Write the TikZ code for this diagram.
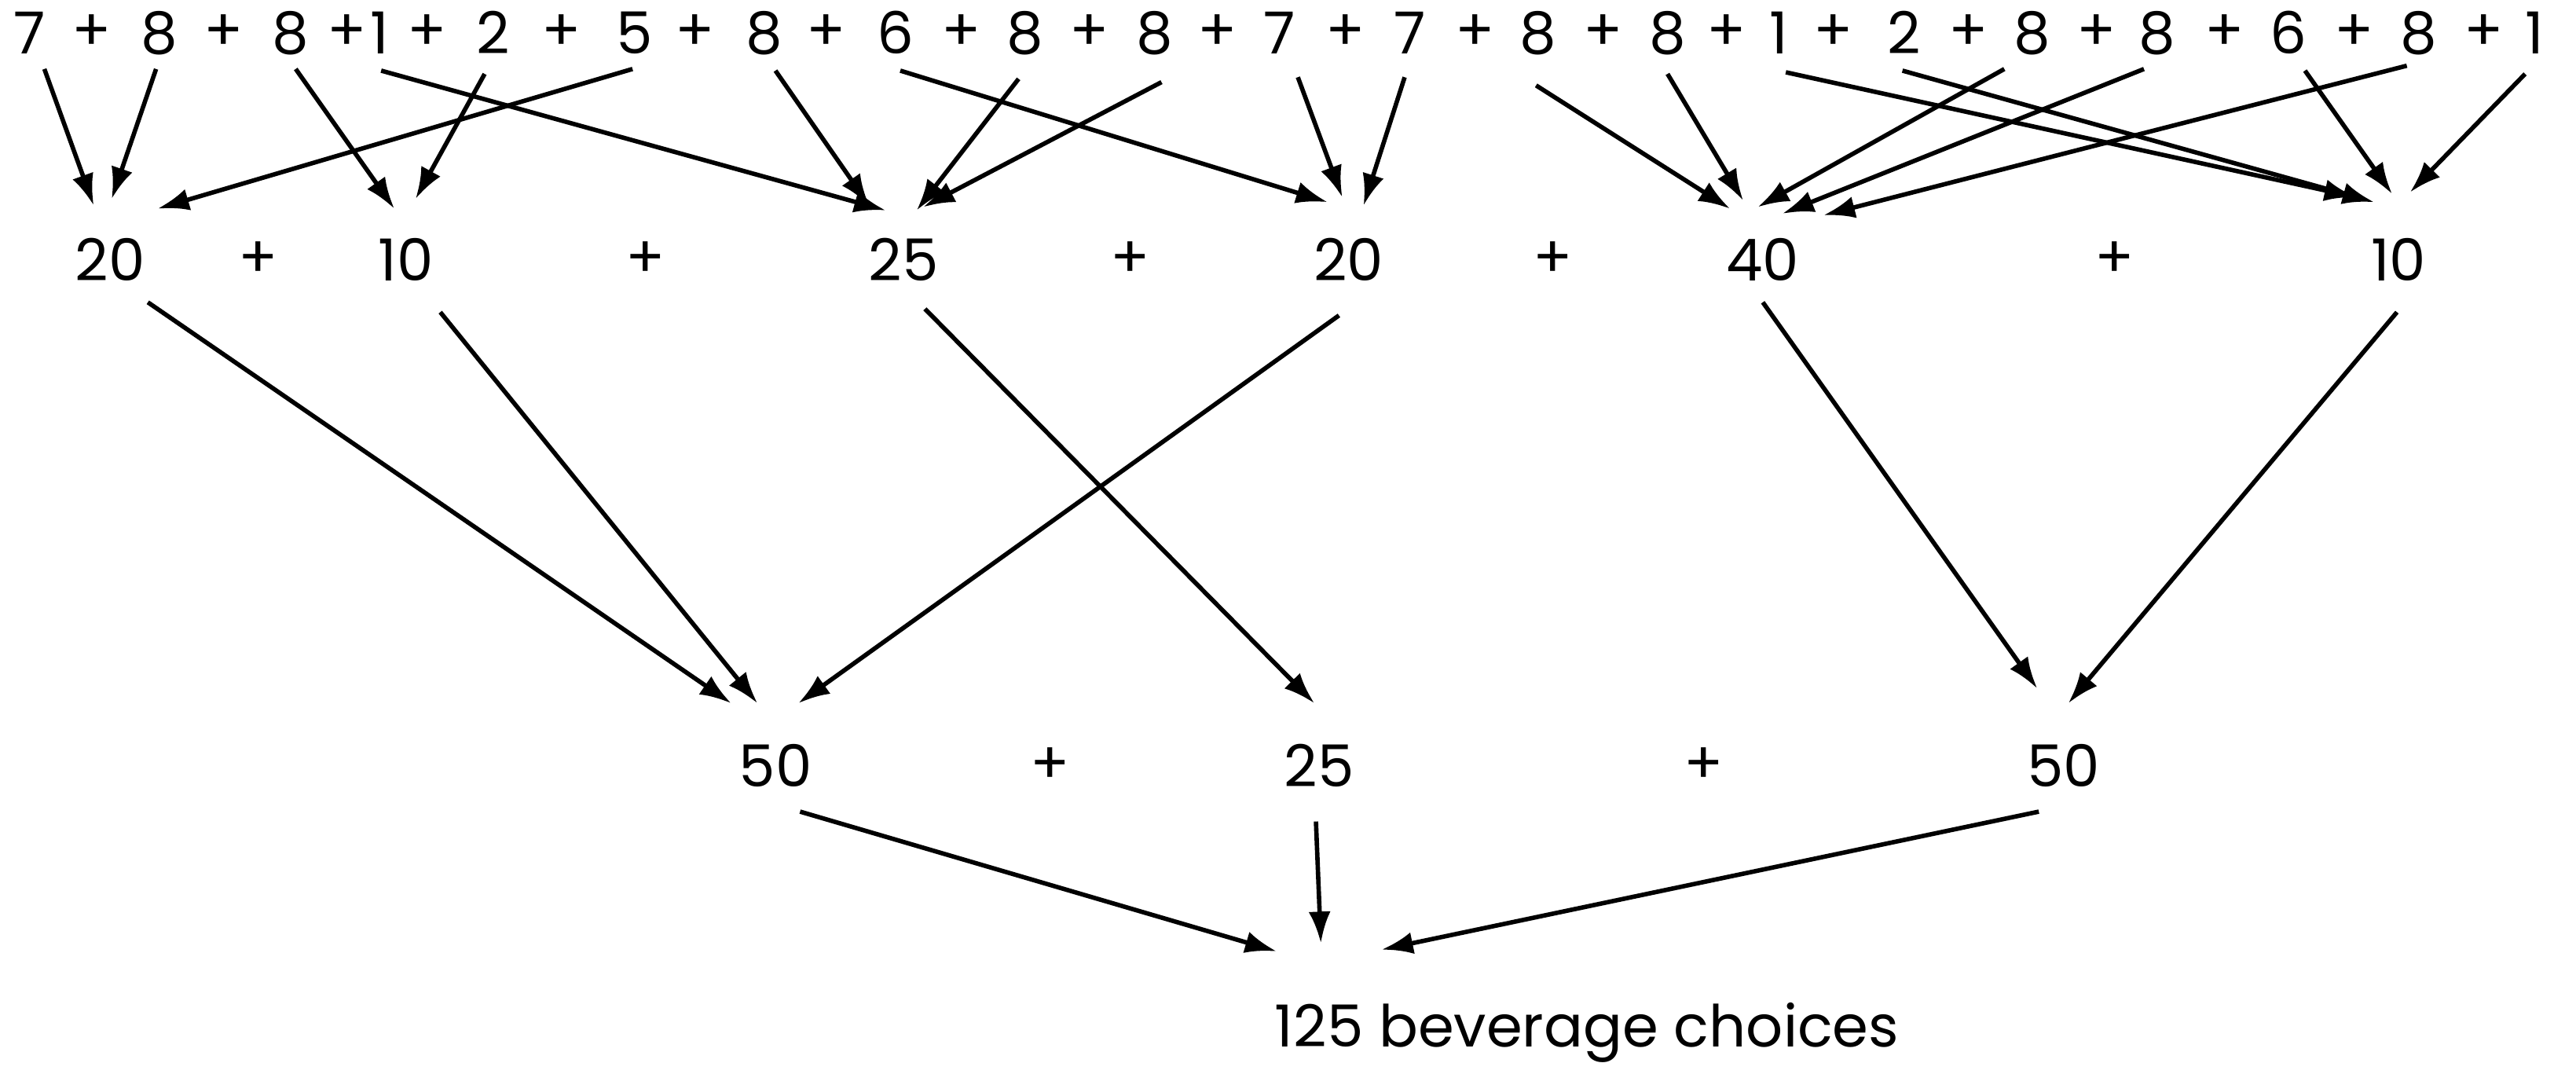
\documentclass[tikz,border=0pt]{standalone}
\usepackage{fontspec}
\setmainfont{Poppins}
\usetikzlibrary{arrows.meta,calc}
\tikzset{
    num/.style={inner sep=0pt, font=\fontsize{21}{25}\selectfont},
    arr/.style={line width=1.6pt, -{Latex[length=4mm,width=2.8mm]}},
}
\begin{document}
\begin{tikzpicture}[x=0.2091mm, y=-0.2091mm]
        \useasboundingbox (0,0) rectangle (1568,660);
        % the single drinks
        \foreach \v/\x [count=\i] in {7/18, 8/97, 8/177, 1/231, 2/300, 5/386, 8/465,
                6/545, 8/624, 8/703, 7/779, 7/858, 8/936, 8/1015, 1/1083, 2/1159,
                8/1237, 8/1313, 6/1393, 8/1472, 1/1543}
            \node[num] (t\i) at (\x,20) {\v};
        \foreach \x [count=\i] in {56, 136, 211, 260, 342, 423, 503, 585, 663, 741,
                819, 898, 976, 1051, 1116, 1198, 1276, 1354, 1433, 1512}
            \node[num] (tp\i) at (\x,20) {+};
        % first sums
        \node[num] (m1) at (67,158) {20};
        \node[num] (mp1) at (157,158) {+};
        \node[num] (m2) at (247,158) {10};
        \node[num] (mp2) at (393,158) {+};
        \node[num] (m3) at (550,158) {25};
        \node[num] (mp3) at (688,158) {+};
        \node[num] (m4) at (821,158) {20};
        \node[num] (mp4) at (945,158) {+};
        \node[num] (m5) at (1073,158) {40};
        \node[num] (mp5) at (1287,158) {+};
        \node[num] (m6) at (1460,158) {10};
        % second sums
        \node[num] (b1) at (472,466) {50};
        \node[num] (bp1) at (639,466) {+};
        \node[num] (b2) at (803,466) {25};
        \node[num] (bp2) at (1037,466) {+};
        \node[num] (b3) at (1256,466) {50};
        \node[num, anchor=base] (total) at (966,637) {125 beverage choices};
        % top row to first sums
        \draw[arr] ($(t1)+(9,22)$) -- ($(m1)+(-10,-33)$);
        \draw[arr] ($(t2)+(-2,22)$) -- ($(m1)+(1,-37)$);
        \draw[arr] ($(t6)+(-1,22)$) -- ($(m1)+(29,-31)$);
        \draw[arr] ($(t3)+(3,22)$) -- ($(m2)+(-7,-31)$);
        \draw[arr] ($(t5)+(-5,25)$) -- ($(m2)+(6,-37)$);
        \draw[arr] ($(t4)+(1,23)$) -- ($(m3)+(-11,-30)$);
        \draw[arr] ($(t7)+(7,23)$) -- ($(m3)+(-21,-33)$);
        \draw[arr] ($(t9)+(-4,28)$) -- ($(m3)+(8,-30)$);
        \draw[arr] ($(t10)+(4,30)$) -- ($(m3)+(12,-32)$);
        \draw[arr] ($(t8)+(3,23)$) -- ($(m4)+(-13,-35)$);
        \draw[arr] ($(t11)+(11,27)$) -- ($(m4)+(-4,-38)$);
        \draw[arr] ($(t12)+(-3,27)$) -- ($(m4)+(9,-33)$);
        \draw[arr] ($(t13)+(-1,32)$) -- ($(m5)+(-20,-31)$);
        \draw[arr] ($(t14)+(0,25)$) -- ($(m5)+(-12,-36)$);
        \draw[arr] ($(t17)+(-17,22)$) -- ($(m5)+(-3,-32)$);
        \draw[arr] ($(t18)+(-8,22)$) -- ($(m5)+(12,-28)$);
        \draw[arr] ($(t20)+(-7,20)$) -- ($(m5)+(37,-27)$);
        \draw[arr] ($(t15)+(4,24)$) -- ($(m6)+(-26,-38)$);
        \draw[arr] ($(t16)+(-1,23)$) -- ($(m6)+(-15,-35)$);
        \draw[arr] ($(t19)+(10,23)$) -- ($(m6)+(-4,-40)$);
        \draw[arr] ($(t21)+(-6,25)$) -- ($(m6)+(7,-41)$);
        % first sums to second sums
        \draw[arr] ($(m1)+(23,26)$) -- ($(b1)+(-27,-38)$);
        \draw[arr] ($(m2)+(21,32)$) -- ($(b1)+(-11,-38)$);
        \draw[arr] ($(m4)+(-6,34)$) -- ($(b1)+(14,-38)$);
        \draw[arr] ($(m3)+(13,30)$) -- ($(b2)+(-3,-38)$);
        \draw[arr] ($(m5)+(0,26)$) -- ($(b3)+(-16,-47)$);
        \draw[arr] ($(m6)+(-1,32)$) -- ($(b3)+(3,-38)$);
        % second sums to the total
        \draw[arr] ($(b1)+(15,28)$) -- ($(total.base)+(-189,-58)$);
        \draw[arr] ($(b2)+(-2,34)$) -- ($(total.base)+(-162,-63)$);
        \draw[arr] ($(b3)+(-15,28)$) -- ($(total.base)+(-125,-59)$);
    \end{tikzpicture}
\end{document}
